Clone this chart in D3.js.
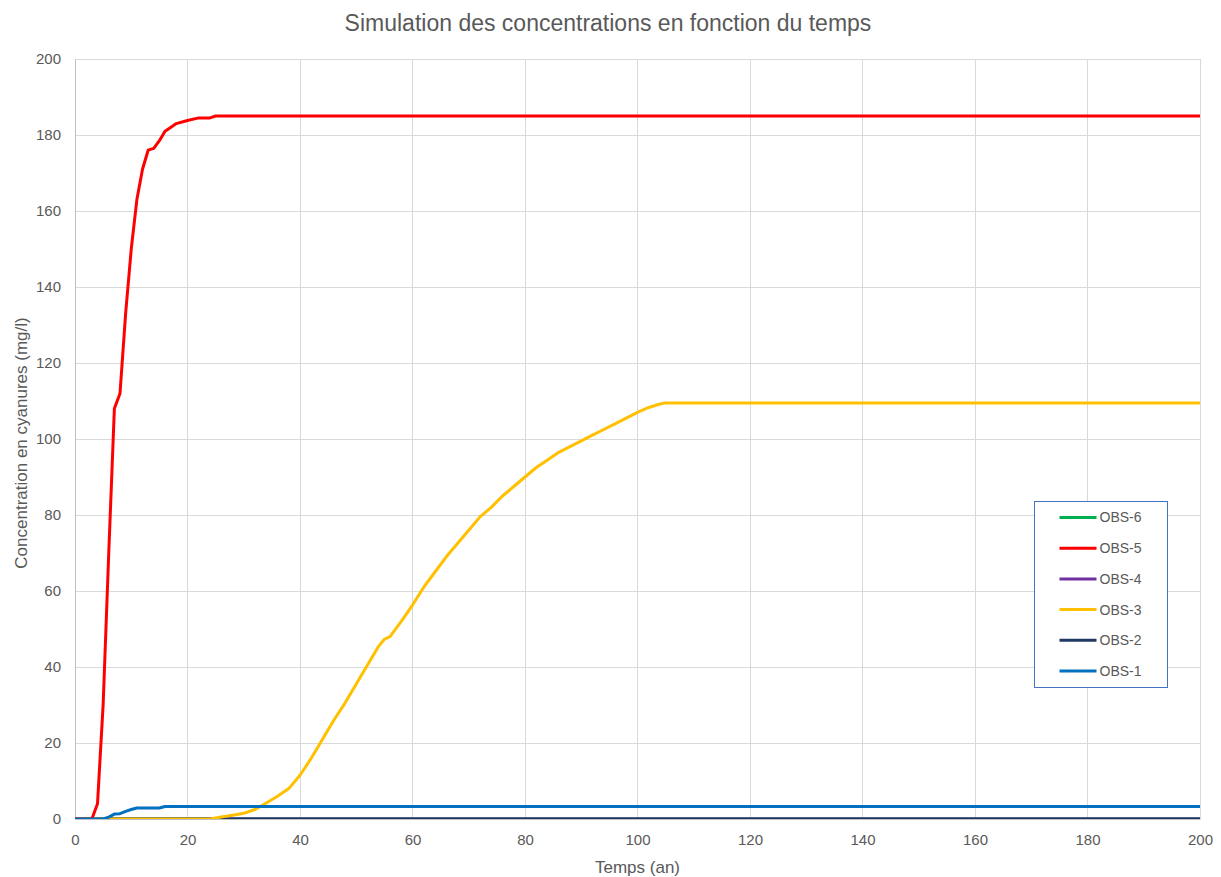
<!DOCTYPE html>
<html>
<head>
<meta charset="utf-8">
<script src="https://cdn.jsdelivr.net/npm/d3@7"></script>
<style>
  body { margin: 0; background: #fff; }
  svg text { font-family: "Liberation Sans", Arial, sans-serif; fill: #595959; }
</style>
</head>
<body>
<div class="container"></div>
<script>
// values: [temps (an), concentration (mg/l)]
var obs1 = [[0,0],[5,0],[6,0.5],[7,1.3],[8,1.4],[9,2],[10,2.5],[11,2.9],[15,2.9],[16,3.3],[200,3.3]]
var obs2 = [[0,0],[200,0]]
var obs3 = [[0,0],[24,0],[26,0.5],[28,1],[30,1.5],[32,2.5],[34,4.2],[36,6],[38,8],[40,11.5],[42,16],
  [44,21],[46,26],[48,30.5],[50,35.5],[52,40.5],[54,45.5],[55,47.3],[56,48],[58,52],[60,56.3],[62,61],
  [64,65],[66,69],[68,72.5],[70,76],[72,79.5],[74,82],[76,85],[78,87.5],[80,90],[82,92.5],[84,94.5],
  [86,96.5],[88,98],[90,99.5],[92,101],[94,102.5],[96,104],[98,105.5],[100,107],[102,108.3],[104,109.2],
  [105,109.5],[200,109.5]]
var obs4 = [[0,0],[200,0]]
var obs5 = [[0,0],[3,0],[4,4],[5,30],[6,70],[7,108],[8,112],[9,133],[10,150],[11,163],[12,171],[13,176],
  [14,176.5],[15,178.5],[16,181],[17,182],[18,183],[20,183.8],[22,184.5],[24,184.5],[25,185],[200,185]]
var obs6 = [[0,0],[200,0]]

var seriesNames = ['OBS-6', 'OBS-5', 'OBS-4', 'OBS-3', 'OBS-2', 'OBS-1']
var seriesData = [obs6, obs5, obs4, obs3, obs2, obs1]
var seriesColors = ['#00b050', '#ff0000', '#7030a0', '#ffc000', '#1f3864', '#0070c0']
var drawOrder = ['OBS-6', 'OBS-4', 'OBS-2', 'OBS-3', 'OBS-5', 'OBS-1']
var xTicks = d3.range(0, 201, 20)
var yTicks = d3.range(0, 201, 20)

var series = seriesNames.map((name, i) => ({name, values: seriesData[i], color: seriesColors[i]}))

var width = 1221, height = 877
var margin = {left: 75, right: 21, top: 59, bottom: 58}

var svg = d3.select('.container').append('svg')
  .attr('width', width).attr('height', height)

var x = d3.scaleLinear().domain([0, 200]).range([margin.left, width - margin.right])
var y = d3.scaleLinear().domain([0, 200]).range([height - margin.bottom, margin.top])

svg.append('clipPath').attr('id', 'plot')
  .append('rect')
  .attr('x', x(0)).attr('y', y(200))
  .attr('width', x(200) - x(0)).attr('height', y(0) - y(200))

// grid
svg.append('g').selectAll('line').data(xTicks).join('line')
  .attr('x1', d => x(d)).attr('x2', d => x(d))
  .attr('y1', y(0)).attr('y2', y(200))
  .attr('stroke', '#d9d9d9').attr('stroke-width', 1).attr('shape-rendering', 'crispEdges')
svg.append('g').selectAll('line').data(yTicks).join('line')
  .attr('x1', x(0)).attr('x2', x(200))
  .attr('y1', d => y(d)).attr('y2', d => y(d))
  .attr('stroke', '#d9d9d9').attr('stroke-width', 1).attr('shape-rendering', 'crispEdges')

// axes
var xAxis = svg.append('g')
  .attr('transform', `translate(0,${y(0)})`)
  .call(d3.axisBottom(x).tickValues(xTicks).tickSize(0).tickPadding(15))
var yAxis = svg.append('g')
  .attr('transform', `translate(${x(0)},0)`)
  .call(d3.axisLeft(y).tickValues(yTicks).tickSize(0).tickPadding(14))
xAxis.select('.domain').attr('stroke', '#bfbfbf')
yAxis.select('.domain').attr('stroke', '#bfbfbf')
svg.selectAll('.tick text').style('font-size', '15px').style('fill', '#595959')
  .style('font-family', '"Liberation Sans", Arial, sans-serif')

// lines, clipped to the plot area like the original
var line = d3.line().x(d => x(d[0])).y(d => y(d[1]))
svg.append('g').attr('clip-path', 'url(#plot)')
  .selectAll('path').data(drawOrder.map(n => series.find(s => s.name == n))).join('path')
  .attr('d', d => line(d.values))
  .attr('fill', 'none')
  .attr('stroke', d => d.color)
  .attr('stroke-width', 3)
  .attr('stroke-linejoin', 'round')

// titles
svg.append('text').text('Simulation des concentrations en fonction du temps')
  .attr('x', 608).attr('y', 31).attr('text-anchor', 'middle')
  .style('font-size', '23px')
svg.append('text').text('Temps (an)')
  .attr('x', x(100)).attr('y', 873).attr('text-anchor', 'middle')
  .style('font-size', '17px')
svg.append('text').text('Concentration en cyanures (mg/l)')
  .attr('transform', `translate(27,${(y(0) + y(200)) / 2 + 4}) rotate(-90)`)
  .attr('text-anchor', 'middle')
  .style('font-size', '17px')

// legend
var legend = svg.append('g').attr('transform', 'translate(1034.5,501.5)')
legend.append('rect').attr('width', 133).attr('height', 186)
  .attr('fill', '#fff').attr('stroke', '#4472c4').attr('stroke-width', 1)
var item = legend.selectAll('g.item').data(series).join('g')
  .attr('class', 'item')
  .attr('transform', (d, i) => `translate(0,${16 + i * 30.7})`)
item.append('line').attr('x1', 25).attr('x2', 62)
  .attr('stroke', d => d.color).attr('stroke-width', 3)
item.append('text').text(d => d.name)
  .attr('x', 65).attr('dy', '0.35em')
  .style('font-size', '14px')
</script>
</body>
</html>
